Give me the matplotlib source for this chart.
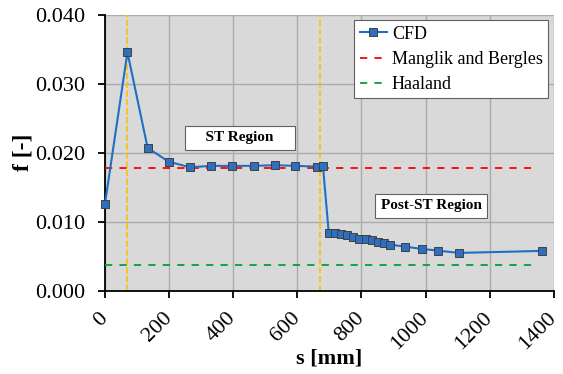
import matplotlib
matplotlib.use("Agg")
import matplotlib.pyplot as plt

# CFD friction factor along the duct
s_cfd = [0, 70, 133, 199, 265, 331, 396, 464, 529, 594, 660, 680,
         698, 717, 736, 756, 775, 794, 814, 833, 853, 871, 889, 937, 988, 1039, 1104, 1364]
f_cfd = [0.0126, 0.0346, 0.0207, 0.0187, 0.0179, 0.0181, 0.0181, 0.0181, 0.0182, 0.0181, 0.0180, 0.0181,
         0.00842, 0.00837, 0.00823, 0.00804, 0.00779, 0.00755, 0.00746, 0.00736, 0.00707, 0.00696,
         0.00667, 0.00638, 0.00605, 0.00580, 0.00547, 0.00576]

# correlations (constant values)
s_corr = [0, 1350]
f_manglik = 0.01785
f_haaland = 0.00373

# region borders
s_borders = [68, 670]

plt.rcParams['font.family'] = ['Liberation Serif', 'DejaVu Serif']

fig = plt.figure(figsize=(5.63, 3.74), dpi=100)
ax = fig.add_axes([0.1865, 0.223, 0.797, 0.737])
ax.set_facecolor('#d9d9d9')

for b in s_borders:
    ax.axvline(b, color='#ffc000', linestyle='--', linewidth=1.2, zorder=2)

ax.plot(s_cfd, f_cfd, color='#1f6fc5', linewidth=1.5, marker='s', markersize=5.5,
        markerfacecolor='#2e6fc0', markeredgecolor='#404040', markeredgewidth=0.7,
        label='CFD', zorder=4, clip_on=False)
ax.plot(s_corr, [f_manglik] * 2, color='#ff0000', linestyle=(0, (4, 4)), linewidth=1.3,
        label='Manglik and Bergles', zorder=3)
ax.plot(s_corr, [f_haaland] * 2, color='#00a03c', linestyle=(0, (4, 4)), linewidth=1.3,
        label='Haaland', zorder=3)

ax.set_xlim(0, 1400)
ax.set_ylim(0, 0.040)
ax.set_xticks(range(0, 1401, 200))
ax.set_yticks([0, 0.01, 0.02, 0.03, 0.04])
ax.set_yticklabels(['0.000', '0.010', '0.020', '0.030', '0.040'])
ax.grid(True, color='#ababab', linewidth=1.0, zorder=0)
ax.set_axisbelow(True)
ax.tick_params(axis='both', labelsize=16, direction='out', length=5, width=1.3)
ax.tick_params(axis='x', pad=13)
ax.tick_params(axis='y', pad=9)
plt.setp(ax.get_xticklabels(), rotation=45, ha='right', va='center', rotation_mode='anchor')
for sp in ['top', 'right']:
    ax.spines[sp].set_visible(False)
for sp in ['left', 'bottom']:
    ax.spines[sp].set_linewidth(1.3)

ax.set_xlabel('s [mm]', fontsize=16, fontweight='bold', labelpad=-4)
ax.set_ylabel('f [-]', fontsize=17, fontweight='bold', labelpad=1.5)

box = dict(boxstyle='square,pad=0.35', facecolor='white', edgecolor='#606060', linewidth=0.8)
ax.text(421, 0.02215, '    ST Region    ', fontsize=11, fontweight='bold', ha='center', va='center',
        bbox=box, zorder=5)
ax.text(1018, 0.01229, 'Post-ST Region', fontsize=11, fontweight='bold', ha='center', va='center',
        bbox=box, zorder=5)

leg = ax.legend(loc='upper right', fontsize=13, frameon=True, fancybox=False,
                edgecolor='#606060', framealpha=1, handlelength=1.5, handletextpad=0.3,
                borderpad=0.3, labelspacing=0.45, borderaxespad=0.3)
leg.get_frame().set_linewidth(0.8)

fig.savefig('out.png', dpi=100)
